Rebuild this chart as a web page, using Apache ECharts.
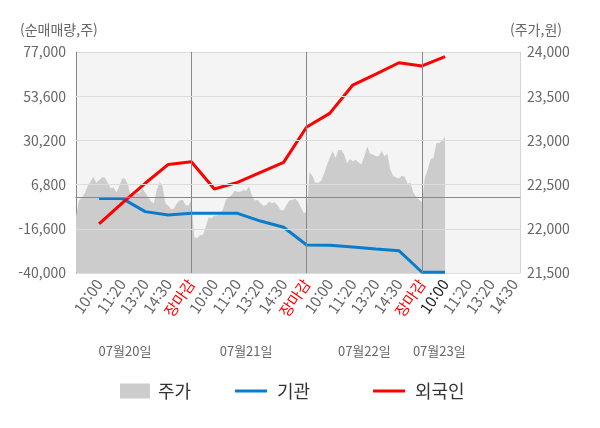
<!DOCTYPE html>
<html lang="ko">
<head>
<meta charset="UTF-8">
<title>순매매량 / 주가</title>
<script src="https://cdn.jsdelivr.net/npm/echarts@6/dist/echarts.min.js"></script>
<style>
  html, body { margin: 0; padding: 0; background: #fff; }
  #chart { width: 600px; height: 428px; }
</style>
</head>
<body>
<div id="chart"></div>
<script>
// 라벨 (한 칸 = 8 포인트)
var STEP = 8;
var tickLabels = ['10:00', '11:20', '13:20', '14:30', '장마감',
                  '10:00', '11:20', '13:20', '14:30', '장마감',
                  '10:00', '11:20', '13:20', '14:30', '장마감',
                  '10:00', '11:20', '13:20', '14:30'];
var nowLabel = 15;              // 현재 시각 (검정색 표시)
var dateLabels = ['07월20일', '07월21일', '07월22일', '07월23일'];
var datePos = [17, 59, 100, 126];

// 주가 (원)
var price = [
  22140, 22320, 22350, 22400, 22480, 22530, 22590, 22520, 22550, 22580,
  22580, 22520, 22460, 22470, 22410, 22480, 22570, 22570, 22500, 22370,
  22370, 22400, 22400, 22460, 22410, 22360, 22310, 22290, 22440, 22530,
  22480, 22290, 22260, 22220, 22230, 22290, 22320, 22330, 22270, 22260,
  22330, 21910, 21890, 21930, 21930, 22020, 22130, 22120, 22150, 22150,
  22170, 22220, 22330, 22360, 22380, 22430, 22420, 22420, 22440, 22430,
  22480, 22380, 22320, 22330, 22290, 22260, 22270, 22310, 22290, 22300,
  22260, 22210, 22210, 22270, 22320, 22330, 22340, 22310, 22240, 22180,
  22190, 22640, 22600, 22520, 22520, 22540, 22620, 22720, 22800, 22880,
  22800, 22890, 22890, 22840, 22740, 22790, 22760, 22780, 22750, 22730,
  22820, 22930, 22850, 22840, 22820, 22820, 22880, 22820, 22850, 22670,
  22600, 22580, 22570, 22600, 22590, 22510, 22520, 22410, 22360, 22330,
  22300, 22580, 22670, 22790, 22800, 22970, 22970, 23000, 23040
];

// 순매매량 (주) - 라벨 시각마다
var instVals    = [-500, -500, -7500, -9300, -8400, -8400, -8400, -12500, -15800,
                   -25200, -25300, -26200, -27300, -28200, -39600, -39600];
var foreignVals = [-14000, -3000, 7500, 17500, 18900, 4500, 8000, 13300, 18600,
                   37300, 44500, 59500, 65300, 71300, 69600, 74500];

var leftMin = -40000, leftMax = 77000, leftStep = 23400;
var rightMin = 21500, rightMax = 24000, rightStep = 500;

var nCat = tickLabels.length * STEP + STEP / 4 + 1;
var cats = [];
for (var i = 0; i < nCat; i++) cats.push(String(i));

function spread(vals) {
  var out = [];
  for (var k = 0; k < nCat; k++) out.push(null);
  vals.forEach(function (v, j) { out[(j + 1) * STEP] = v; });
  return out;
}

// 그래프 위에 덮이는 보조선
var overLines = [];
for (var d = 1; d * 5 * STEP < nCat; d++) {
  overLines.push({ xAxis: String(d * 5 * STEP), lineStyle: { color: '#888', width: 1, type: 'solid' } });
}
for (var v = rightMin + rightStep; v < rightMax; v += rightStep) {
  overLines.push({ yAxis: v, lineStyle: { color: '#dcdcdc', width: 1, type: 'solid' } });
}
var zeroOnRight = rightMin + (0 - leftMin) / (leftMax - leftMin) * (rightMax - rightMin);
overLines.push({ yAxis: zeroOnRight, lineStyle: { color: '#888', width: 1, type: 'solid' } });

var font = 'Noto Sans CJK KR';
var lineIcon = 'path://M0,0 L32,0 L32,3 L0,3 Z';
var chart = echarts.init(document.getElementById('chart'));
chart.setOption({
  animation: false,
  backgroundColor: '#fff',
  textStyle: { fontFamily: font },
  grid: {
    left: 76, right: 80, top: 52, bottom: 155,
    show: true, backgroundColor: '#f4f4f4', borderWidth: 0
  },
  graphic: [
    { type: 'text', left: 20, top: 23, style: { text: '(순매매량,주)', fill: '#666', font: '14px "' + font + '"' } },
    { type: 'text', left: 510, top: 23, style: { text: '(주가,원)', fill: '#666', font: '14px "' + font + '"' } }
  ],
  legend: [
    { left: 115, top: 377, itemWidth: 30, itemHeight: 15, itemGap: 0,
      textStyle: { fontSize: 18, color: '#333', padding: [0, 0, 0, 3] },
      data: [{ name: '주가', icon: 'rect' }] },
    { left: 230, top: 377, itemWidth: 32, itemHeight: 3, itemGap: 0,
      textStyle: { fontSize: 18, color: '#333', padding: [0, 0, 0, 5] },
      data: [{ name: '기관', icon: lineIcon }] },
    { left: 368, top: 377, itemWidth: 32, itemHeight: 3, itemGap: 0,
      textStyle: { fontSize: 18, color: '#333', padding: [0, 0, 0, 5] },
      data: [{ name: '외국인', icon: lineIcon }] }
  ],
  xAxis: [{
    type: 'category',
    data: cats,
    boundaryGap: false,
    axisLine: { lineStyle: { color: '#888' } },
    axisTick: { show: true, length: 4, lineStyle: { color: '#888' },
      interval: function (idx) { return idx % (5 * STEP) === 0; } },
    splitLine: { show: false },
    axisLabel: {
      rotate: 55,
      fontSize: 15,
      color: '#666',
      margin: 8,
      interval: function (idx) { return idx > 0 && idx % STEP === 0; },
      formatter: function (val, idx) {
        var j = idx / STEP - 1;
        var t = tickLabels[j];
        if (t === undefined) return '';
        if (t === '장마감') return '{r|' + t + '}';
        if (j === nowLabel) return '{k|' + t + '}';
        return t;
      },
      rich: {
        r: { color: '#ff0000', fontSize: 15, fontFamily: font },
        k: { color: '#222', fontSize: 15, fontFamily: font }
      }
    }
  }, {
    type: 'category',
    data: cats,
    position: 'bottom',
    offset: 64,
    boundaryGap: false,
    axisLine: { show: false },
    axisTick: { show: false },
    axisLabel: {
      fontSize: 13,
      color: '#666',
      interval: 0,
      formatter: function (val, idx) {
        var p = datePos.indexOf(idx);
        return p >= 0 ? dateLabels[p] : '';
      }
    }
  }],
  yAxis: [{
    type: 'value',
    min: leftMin, max: leftMax, interval: leftStep,
    axisLine: { show: true, lineStyle: { color: '#888' } },
    axisTick: { show: false },
    splitLine: { show: true, lineStyle: { color: '#dcdcdc' } },
    axisLabel: {
      fontSize: 14, color: '#666', margin: 10,
      formatter: function (v) { return v.toLocaleString('en-US'); }
    }
  }, {
    type: 'value',
    position: 'right',
    min: rightMin, max: rightMax, interval: rightStep,
    axisLine: { show: true, lineStyle: { color: '#d4d4d4' } },
    axisTick: { show: false },
    splitLine: { show: false },
    axisLabel: {
      fontSize: 14, color: '#666', margin: 7,
      formatter: function (v) { return v.toLocaleString('en-US'); }
    }
  }],
  series: [{
    name: '주가',
    type: 'line',
    yAxisIndex: 1,
    data: price,
    symbol: 'none',
    color: '#cccccc',
    lineStyle: { width: 0 },
    areaStyle: { color: '#cccccc', opacity: 1, origin: 'start' },
    markLine: { silent: true, symbol: 'none', label: { show: false }, data: overLines },
    z: 1
  }, {
    name: '기관',
    type: 'line',
    data: spread(instVals),
    connectNulls: true,
    symbol: 'none',
    color: '#0a7ccc',
    lineStyle: { width: 3, color: '#0a7ccc' },
    z: 3
  }, {
    name: '외국인',
    type: 'line',
    data: spread(foreignVals),
    connectNulls: true,
    symbol: 'none',
    color: '#ff0000',
    lineStyle: { width: 3, color: '#ff0000' },
    z: 4
  }]
});
</script>
</body>
</html>
